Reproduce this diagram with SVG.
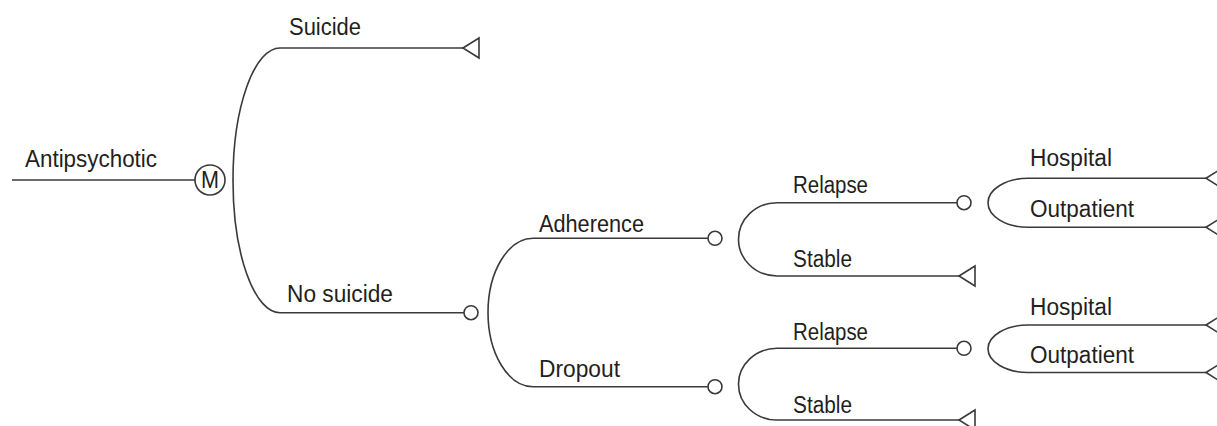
<svg xmlns="http://www.w3.org/2000/svg" width="1217" height="426" viewBox="0 0 1217 426">
<style>
.ln{fill:none;stroke:#3a3a3a;stroke-width:1.6}
.nd{fill:#fff;stroke:#3a3a3a;stroke-width:1.6}
.lb{font-family:"Liberation Sans",Arial,sans-serif;font-size:23.5px;fill:#231f20}
</style>
<rect width="1217" height="426" fill="#fff"/>
<g id="connectors">
<path class="ln" d="M12 180H195"/>
<path class="ln" d="M463 48H280A47 132 0 0 0 233 180A47 132 0 0 0 280 312.7H464"/>
<path class="ln" d="M708 238.3H533A45 74.2 0 0 0 488 312.5A45 74.2 0 0 0 533 386.7H708"/>
<path class="ln" d="M957 202.7H777A38.5 36.7 0 0 0 738.5 239.3A38.5 36.7 0 0 0 777 276H959"/>
<path class="ln" d="M957 348.3H777A38.5 35.8 0 0 0 738.5 384.2A38.5 35.8 0 0 0 777 420H959"/>
<path class="ln" d="M1206 178.3H1028A40 24.5 0 0 0 988 202.8A40 24.5 0 0 0 1028 227.3H1206"/>
<path class="ln" d="M1206 325H1028A40 23.75 0 0 0 988 348.75A40 23.75 0 0 0 1028 372.5H1206"/>
</g>
<g id="root">
<text class="lb" x="25" y="167" textLength="132" lengthAdjust="spacingAndGlyphs">Antipsychotic</text>
<circle class="nd" cx="210" cy="180" r="15"/>
<text class="lb" x="210" y="188" text-anchor="middle" font-size="22" textLength="18" lengthAdjust="spacingAndGlyphs">M</text>
</g>
<g id="suicide">
<text class="lb" x="289" y="35" textLength="72" lengthAdjust="spacingAndGlyphs">Suicide</text>
<polygon class="nd" points="463,48 479,38 479,58"/>
</g>
<g id="nosuicide">
<text class="lb" x="287" y="302" textLength="106" lengthAdjust="spacingAndGlyphs">No suicide</text>
<circle class="nd" cx="471" cy="312.7" r="7"/>
</g>
<g id="adherence">
<text class="lb" x="539" y="232" textLength="105" lengthAdjust="spacingAndGlyphs">Adherence</text>
<circle class="nd" cx="715" cy="238.3" r="7"/>
</g>
<g id="dropout">
<text class="lb" x="539" y="377" textLength="81" lengthAdjust="spacingAndGlyphs">Dropout</text>
<circle class="nd" cx="715" cy="386.7" r="7"/>
</g>
<g id="relapse1">
<text class="lb" x="793" y="193" textLength="75" lengthAdjust="spacingAndGlyphs">Relapse</text>
<circle class="nd" cx="964" cy="202.7" r="7"/>
</g>
<g id="stable1">
<text class="lb" x="793" y="267" textLength="59" lengthAdjust="spacingAndGlyphs">Stable</text>
<polygon class="nd" points="959,276 975,266 975,286"/>
</g>
<g id="relapse2">
<text class="lb" x="793" y="340" textLength="75" lengthAdjust="spacingAndGlyphs">Relapse</text>
<circle class="nd" cx="964" cy="348.3" r="7"/>
</g>
<g id="stable2">
<text class="lb" x="793" y="413" textLength="59" lengthAdjust="spacingAndGlyphs">Stable</text>
<polygon class="nd" points="959,420 975,410 975,430"/>
</g>
<g id="hospital1">
<text class="lb" x="1030" y="166" textLength="82" lengthAdjust="spacingAndGlyphs">Hospital</text>
<polygon class="nd" points="1206,178.3 1222,168.3 1222,188.3"/>
</g>
<g id="outpatient1">
<text class="lb" x="1030" y="217" textLength="104" lengthAdjust="spacingAndGlyphs">Outpatient</text>
<polygon class="nd" points="1206,227.3 1222,217.3 1222,237.3"/>
</g>
<g id="hospital2">
<text class="lb" x="1030" y="315" textLength="82" lengthAdjust="spacingAndGlyphs">Hospital</text>
<polygon class="nd" points="1206,325 1222,315 1222,335"/>
</g>
<g id="outpatient2">
<text class="lb" x="1030" y="363" textLength="104" lengthAdjust="spacingAndGlyphs">Outpatient</text>
<polygon class="nd" points="1206,372.5 1222,362.5 1222,382.5"/>
</g>
</svg>
